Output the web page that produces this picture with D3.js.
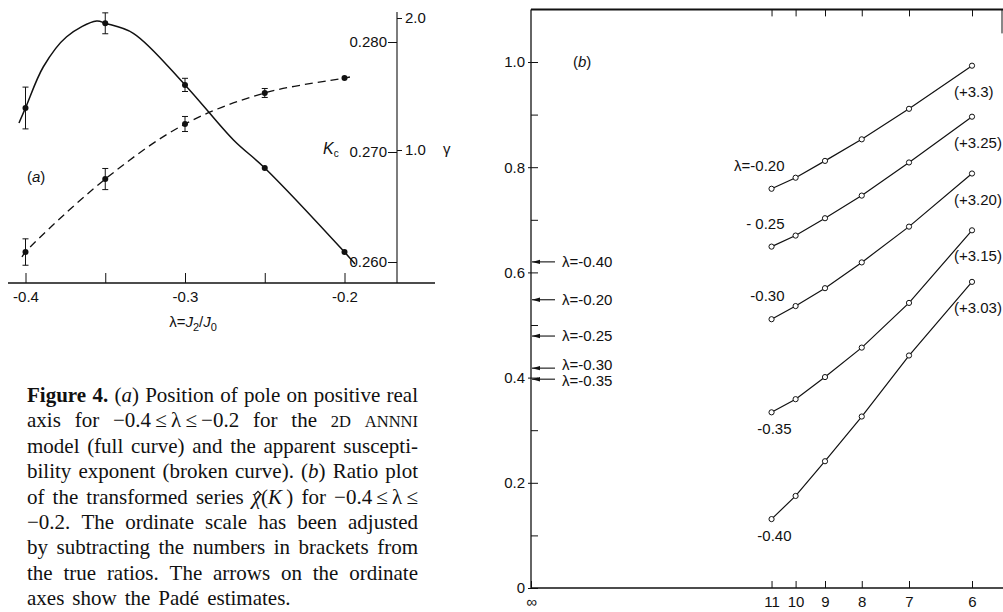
<!DOCTYPE html>
<html>
<head>
<meta charset="utf-8">
<script src="https://cdn.jsdelivr.net/npm/d3@7/dist/d3.min.js"></script>
<style>
  body { margin: 0; background: #fff; }
  svg { display: block; }
  .lab text, text.lab { font-family: "Liberation Sans", Arial, sans-serif; font-size: 15px; fill: #111; }
  .cap text { font-family: "Liberation Serif", "Times New Roman", serif; font-size: 21px; fill: #111; }
</style>
</head>
<body>
<svg id="fig" width="1003" height="612"></svg>
<script>
// ---------- panel (a): pole position K_c and apparent exponent γ vs λ ----------
const lambdaA      = [-0.40, -0.35, -0.30, -0.25, -0.20];
const lambdaTicks  = [-0.40, -0.35, -0.30, -0.25, -0.20];
const lambdaLabels = ["-0.4", "", "-0.3", "", "-0.2"];
const kcValues     = [0.2740, 0.2817, 0.2761, 0.26855, 0.2609];
const kcErrors     = [0.0019, 0.00095, 0.0006, 0, 0];
const gammaValues  = [0.227, 0.780, 1.197, 1.432, 1.545];
const gammaErrors  = [0.10, 0.08, 0.057, 0.034, 0];
const kcTicks      = [0.260, 0.270, 0.280];
const gammaTicks   = [1.0, 2.0];
// smooth traces of the full (K_c) and broken (γ) curves
const kcCurveLambda    = [-0.4041, -0.4, -0.3888, -0.3742, -0.3554, -0.35, -0.3324, -0.30, -0.2696, -0.25, -0.20, -0.1934];
const kcCurveValues    = [0.27264, 0.2740, 0.27775, 0.28048, 0.28191, 0.2817, 0.28079, 0.2761, 0.27109, 0.26855, 0.2609, 0.25982];
const gammaCurveLambda = [-0.4022, -0.40, -0.35, -0.30, -0.25, -0.20, -0.1966];
const gammaCurveValues = [0.189, 0.227, 0.780, 1.197, 1.432, 1.545, 1.553];

// ---------- panel (b): ratio plot against 1/n ----------
const nTerms       = [11, 10, 9, 8, 7, 6];
const nTickLabels  = ["∞", "11", "10", "9", "8", "7", "6"];
const ratioTicks   = [0, 0.2, 0.4, 0.6, 0.8, 1.0];
const ratioTickLbl = ["0", "0.2", "0.4", "0.6", "0.8", "1.0"];
const ratioMinor   = [0.1, 0.3, 0.5, 0.7, 0.9];
const ratioLam020  = [0.759, 0.780, 0.812, 0.853, 0.911, 0.993];
const ratioLam025  = [0.649, 0.670, 0.703, 0.746, 0.809, 0.896];
const ratioLam030  = [0.511, 0.536, 0.570, 0.619, 0.687, 0.788];
const ratioLam035  = [0.334, 0.359, 0.401, 0.457, 0.542, 0.680];
const ratioLam040  = [0.131, 0.175, 0.241, 0.326, 0.442, 0.582];
const seriesNames  = ["λ=-0.20", "- 0.25", "-0.30", "-0.35", "-0.40"];
const seriesShift  = ["(+3.3)", "(+3.25)", "(+3.20)", "(+3.15)", "(+3.03)"];
const padeNames    = ["λ=-0.40", "λ=-0.20", "λ=-0.25", "λ=-0.30", "λ=-0.35"];
const padeValues   = [0.620, 0.548, 0.479, 0.418, 0.397];

// ---------- caption ----------
// *bold*  _italic_  ^small caps^  ~italic with hat~
const captionLines = [
  "*Figure 4.* (_a_) Position of pole on positive real",
  "axis for −0.4\u2009≤\u2009λ\u2009≤\u2009−0.2 for the ^2D ANNNI^",
  "model (full curve) and the apparent suscepti-",
  "bility exponent (broken curve). (_b_) Ratio plot",
  "of the transformed series ~χ~(_K_\u2009) for −0.4\u2009≤\u2009λ\u2009≤",
  "−0.2. The ordinate scale has been adjusted",
  "by subtracting the numbers in brackets from",
  "the true ratios. The arrows on the ordinate",
  "axes show the Padé estimates."
];

const svg = d3.select("#fig");
const ink = "#111";

// "(x)" panel tag with an italic letter
function panelTag(g, x, y, letter) {
  const t = g.append("text").attr("x", x).attr("y", y);
  t.append("tspan").text("(");
  t.append("tspan").attr("font-style", "italic").text(letter);
  t.append("tspan").text(")");
  return t;
}

// ================= panel (a) =================
const xA = d3.scaleLinear().domain([-0.4, -0.2]).range([25.5, 344.5]);
const yK = d3.scaleLinear().domain([0.26, 0.28]).range([262, 42]);
const yG = d3.scaleLinear().domain([0, 2]).range([282, 18]);
const pa = svg.append("g").attr("class", "lab");

// abscissa
pa.append("line").attr("x1", 8).attr("x2", 435).attr("y1", 283).attr("y2", 283)
  .attr("stroke", ink).attr("stroke-width", 1.3);
const axA = pa.append("g").attr("transform", "translate(0,283)")
  .call(d3.axisBottom(xA).tickValues(lambdaTicks).tickSize(-10).tickPadding(8)
    .tickFormat((d, i) => lambdaLabels[i]));
axA.select(".domain").remove();
axA.selectAll("line").attr("stroke", ink);
axA.selectAll("text").attr("font-size", 15).attr("font-family", null).attr("fill", ink);

const xTitle = pa.append("text").attr("x", 193).attr("y", 327).attr("text-anchor", "middle");
xTitle.append("tspan").text("λ=");
xTitle.append("tspan").attr("font-style", "italic").text("J");
xTitle.append("tspan").attr("font-size", 11).attr("dy", 4).text("2");
xTitle.append("tspan").attr("dy", -4).text("/");
xTitle.append("tspan").attr("font-style", "italic").text("J");
xTitle.append("tspan").attr("font-size", 11).attr("dy", 4).text("0");

// right-hand ordinate: K_c on the left of the line, γ on the right
const xR = 397;
pa.append("line").attr("x1", xR).attr("x2", xR).attr("y1", 283).attr("y2", 12)
  .attr("stroke", ink).attr("stroke-width", 1.1);
const axK = pa.append("g").attr("transform", `translate(${xR},0)`)
  .call(d3.axisLeft(yK).tickValues(kcTicks).tickSize(9).tickPadding(1).tickFormat(d3.format(".3f")));
const axG = pa.append("g").attr("transform", `translate(${xR},0)`)
  .call(d3.axisRight(yG).tickValues(gammaTicks).tickSize(5).tickPadding(3).tickFormat(d3.format(".1f")));
[axK, axG].forEach(g => {
  g.select(".domain").remove();
  g.selectAll("line").attr("stroke", ink);
  g.selectAll("text").attr("font-size", 15).attr("font-family", null).attr("fill", ink);
});
const kLab = pa.append("text").attr("x", 323).attr("y", 154);
kLab.append("tspan").attr("font-style", "italic").attr("font-size", 16).text("K");
kLab.append("tspan").attr("font-size", 10).attr("dy", 3).text("c");
pa.append("text").attr("x", 443).attr("y", 154).attr("font-size", 16).text("γ");
panelTag(pa, 27, 182, "a");

// full curve: K_c
const lineK = d3.line().x(d => xA(d[0])).y(d => yK(d[1])).curve(d3.curveCatmullRom.alpha(0.5));
pa.append("path").datum(d3.zip(kcCurveLambda, kcCurveValues)).attr("d", lineK)
  .attr("fill", "none").attr("stroke", ink).attr("stroke-width", 1.5);
// broken curve: γ
const lineG = d3.line().x(d => xA(d[0])).y(d => yG(d[1])).curve(d3.curveCatmullRom.alpha(0.5));
pa.append("path").datum(d3.zip(gammaCurveLambda, gammaCurveValues)).attr("d", lineG)
  .attr("fill", "none").attr("stroke", ink).attr("stroke-width", 1.3).attr("stroke-dasharray", "8,5");

function drawPoints(vals, errs, y) {
  vals.forEach((v, i) => {
    const x = xA(lambdaA[i]);
    if (errs[i] > 0) {
      const y1 = y(v + errs[i]), y2 = y(v - errs[i]);
      pa.append("line").attr("x1", x).attr("x2", x).attr("y1", y1).attr("y2", y2).attr("stroke", ink).attr("stroke-width", 1);
      [y1, y2].forEach(yy => pa.append("line").attr("x1", x - 3).attr("x2", x + 3).attr("y1", yy).attr("y2", yy)
        .attr("stroke", ink).attr("stroke-width", 1));
    }
    pa.append("circle").attr("cx", x).attr("cy", y(v)).attr("r", 3).attr("fill", ink);
  });
}
drawPoints(kcValues, kcErrors, yK);
drawPoints(gammaValues, gammaErrors, yG);

// ================= panel (b) =================
const xB = d3.scaleLinear().domain([0, 1 / 6]).range([531, 972]);
const yB = d3.scaleLinear().domain([0, 1]).range([588, 62]);
const pb = svg.append("g").attr("class", "lab");
const yTop = yB(1.1);

// frame
pb.append("line").attr("x1", xB(0)).attr("x2", 1003).attr("y1", yTop).attr("y2", yTop)
  .attr("stroke", ink).attr("stroke-width", 2);
pb.append("line").attr("x1", xB(0)).attr("x2", 1003).attr("y1", yB(0)).attr("y2", yB(0))
  .attr("stroke", ink).attr("stroke-width", 1.6);
pb.append("line").attr("x1", xB(0)).attr("x2", xB(0)).attr("y1", yB(0)).attr("y2", yTop)
  .attr("stroke", ink).attr("stroke-width", 1.3);
pb.append("line").attr("x1", 1002).attr("x2", 1002).attr("y1", yTop).attr("y2", yTop + 24)
  .attr("stroke", ink).attr("stroke-width", 1);

// ordinate ticks
const axL = pb.append("g").attr("transform", `translate(${xB(0)},0)`)
  .call(d3.axisLeft(yB).tickValues(ratioTicks).tickSize(-7).tickPadding(6)
    .tickFormat((d, i) => ratioTickLbl[i]));
axL.selectAll("line").attr("x1", -3);
const axLm = pb.append("g").attr("transform", `translate(${xB(0)},0)`)
  .call(d3.axisLeft(yB).tickValues(ratioMinor).tickSize(-7).tickFormat(""));
// abscissa ticks (bottom and top)
const invN = [0].concat(nTerms.map(n => 1 / n));
const axBt = pb.append("g").attr("transform", `translate(0,${yB(0)})`)
  .call(d3.axisBottom(xB).tickValues(invN).tickSize(-7).tickPadding(8)
    .tickFormat((d, i) => nTickLabels[i]));
const axTp = pb.append("g").attr("transform", `translate(0,${yTop})`)
  .call(d3.axisTop(xB).tickValues(nTerms.map(n => 1 / n)).tickSize(-7).tickFormat(""));
[axL, axLm, axBt, axTp].forEach(g => {
  g.select(".domain").remove();
  g.selectAll("line").attr("stroke", ink);
  g.selectAll("text").attr("font-size", 15).attr("font-family", null).attr("fill", ink);
});

panelTag(pb, 573, 67, "b");

// ratio series
const series = [ratioLam020, ratioLam025, ratioLam030, ratioLam035, ratioLam040];
const labelBelow = [false, false, false, true, true];
const lineB = d3.line().x(d => xB(1 / d[0])).y(d => yB(d[1]));
series.forEach((vals, s) => {
  const pts = d3.zip(nTerms, vals);
  pb.append("path").datum(pts).attr("d", lineB)
    .attr("fill", "none").attr("stroke", ink).attr("stroke-width", 1.2);
  pb.selectAll(null).data(pts).enter().append("circle")
    .attr("cx", d => xB(1 / d[0])).attr("cy", d => yB(d[1])).attr("r", 2.6)
    .attr("fill", "#fff").attr("stroke", ink).attr("stroke-width", 1);
  const first = pts[0], last = pts[pts.length - 1];
  pb.append("text").attr("text-anchor", "end")
    .attr("x", xB(1 / first[0]) + (labelBelow[s] ? 20 : 13))
    .attr("y", yB(first[1]) + (labelBelow[s] ? 22 : -18))
    .text(seriesNames[s]);
  pb.append("text").attr("x", xB(1 / last[0]) - 18).attr("y", yB(last[1]) + 31)
    .text(seriesShift[s]);
});

// Padé estimates marked on the ordinate
svg.append("defs").append("marker").attr("id", "arr")
  .attr("viewBox", "0 0 8 6").attr("refX", 8).attr("refY", 3)
  .attr("markerWidth", 8).attr("markerHeight", 6).attr("markerUnits", "userSpaceOnUse")
  .attr("orient", "auto")
  .append("path").attr("d", "M0,0.8 L8,3 L0,5.2 Z").attr("fill", ink);
const padeTextShift = [0, 0, 0, -3, 2];
padeValues.forEach((v, i) => {
  const y = yB(v);
  pb.append("line").attr("x1", xB(0) + 24).attr("x2", xB(0) + 1).attr("y1", y).attr("y2", y)
    .attr("stroke", ink).attr("stroke-width", 1.1).attr("marker-end", "url(#arr)");
  pb.append("text").attr("x", xB(0) + 31).attr("y", y + 5 + padeTextShift[i])
    .attr("font-size", 13.5).text(padeNames[i]);
});

// ================= caption (justified) =================
const cap = svg.append("g").attr("class", "cap");
const capLeft = 27, capRight = 418, capBase = 402, capLead = 25.4;

function parseRuns(s) {
  const re = /\*([^*]+)\*|_([^_]+)_|\^([^^]+)\^|~([^~]+)~|([^*_^~]+)/g;
  const runs = []; let m;
  while ((m = re.exec(s))) {
    if (m[1]) runs.push({ t: m[1], s: "b" });
    else if (m[2]) runs.push({ t: m[2], s: "i" });
    else if (m[3]) runs.push({ t: m[3], s: "c" });
    else if (m[4]) runs.push({ t: m[4], s: "h" });
    else runs.push({ t: m[5], s: "" });
  }
  return runs;
}
function toWords(runs) {
  const words = []; let cur = [];
  runs.forEach(r => {
    r.t.split(" ").forEach((p, i) => {
      if (i > 0 && cur.length) { words.push(cur); cur = []; }
      if (p) cur.push({ t: p, s: r.s });
    });
  });
  if (cur.length) words.push(cur);
  return words;
}
const hatted = [];
captionLines.forEach((line, li) => {
  const y = capBase + li * capLead;
  const words = toWords(parseRuns(line));
  const nodes = words.map(w => {
    const t = cap.append("text").attr("y", y);
    w.forEach(r => {
      const sp = t.append("tspan").text(r.t);
      if (r.s === "b") sp.attr("font-weight", "bold");
      if (r.s === "i" || r.s === "h") sp.attr("font-style", "italic");
      if (r.s === "c") sp.attr("font-size", 16.5);
      if (r.s === "h") hatted.push(sp);
    });
    return t;
  });
  const widths = nodes.map(n => n.node().getComputedTextLength());
  const total = d3.sum(widths);
  const last = li === captionLines.length - 1;
  const gap = last ? 8 : (capRight - capLeft - total) / Math.max(1, words.length - 1);
  let x = capLeft;
  nodes.forEach((n, i) => { n.attr("x", x); x += widths[i] + gap; });
});
// circumflex accents over hatted letters
hatted.forEach(sp => {
  const b = sp.node().getExtentOfChar(0);
  const cx = b.x + b.width / 2 + 1.5, top = b.y + b.height * 0.3;
  cap.append("path").attr("d", `M${cx - 3.5},${top + 3} L${cx},${top - 0.5} L${cx + 3.5},${top + 3}`)
    .attr("fill", "none").attr("stroke", ink).attr("stroke-width", 1.2);
});
</script>
</body>
</html>
